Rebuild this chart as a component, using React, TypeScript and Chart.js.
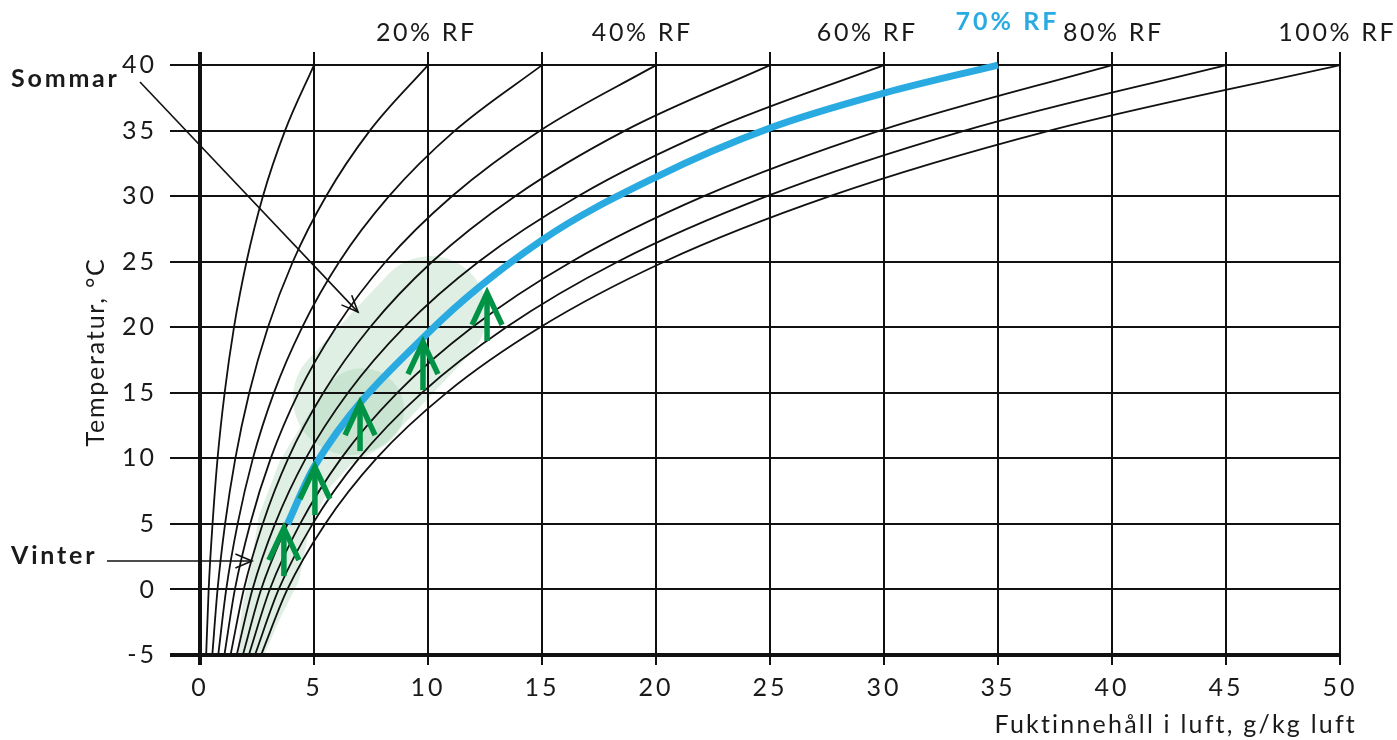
import React, { useEffect, useRef } from "react";
import { Chart, registerables } from "chart.js";

Chart.register(...registerables);

// ---------- data ----------
const TEMPERATURES = [-5, 0, 5, 10, 15, 20, 25, 30, 35, 40];
const RF10 = [0.27, 0.38, 0.55, 0.77, 1.08, 1.49, 2.04, 2.76, 3.73, 5.0];
const RF20 = [0.54, 0.77, 1.1, 1.55, 2.16, 2.98, 4.07, 5.53, 7.45, 10.0];
const RF30 = [0.8, 1.15, 1.65, 2.32, 3.24, 4.48, 6.11, 8.29, 11.18, 15.0];
const RF40 = [1.07, 1.53, 2.2, 3.1, 4.32, 5.97, 8.14, 11.05, 14.91, 20.0];
const RF50 = [1.34, 1.92, 2.75, 3.87, 5.41, 7.46, 10.18, 13.82, 18.64, 25.0];
const RF60 = [1.61, 2.3, 3.29, 4.64, 6.49, 8.95, 12.22, 16.58, 22.36, 30.0];
const RF80 = [2.14, 3.06, 4.39, 6.19, 8.65, 11.94, 16.29, 22.1, 29.82, 40.0];
const RF90 = [2.41, 3.45, 4.94, 6.97, 9.73, 13.43, 18.32, 24.87, 33.54, 45.0];
const RF100 = [2.68, 3.83, 5.49, 7.74, 10.81, 14.92, 20.36, 27.63, 37.27, 50.0];
const RF_CURVES = [RF10, RF20, RF30, RF40, RF50, RF60, RF80, RF90, RF100];

// 70% RF curve (read separately, it is the highlighted one)
const RF70_TEMPS = [-5, 0, 5, 9.34, 19.56, 26.65, 31.46, 35.2, 37.86, 40];
const RF70_X = [1.88, 2.68, 3.84, 5.0, 10.0, 15.0, 20.0, 25.0, 30.0, 35.0];
const BLUE_FROM_TEMP = 5;

const X_TICKS = [0, 5, 10, 15, 20, 25, 30, 35, 40, 45, 50];
const Y_TICKS = [-5, 0, 5, 10, 15, 20, 25, 30, 35, 40];

const TOP_LABELS = ["20% RF", "40% RF", "60% RF", "70% RF", "80% RF", "100% RF"];
const TOP_LABEL_X = [9.87, 19.34, 29.21, 35.35, 40.0, 49.82];
const HIGHLIGHT_LABEL = "70% RF";

const ARROW_X = [3.68, 5.04, 7.02, 9.78, 12.59];
const ARROW_Y = [5.06, 9.72, 14.6, 19.25, 23.0];

const SUMMER_ZONE_X = [6.58, 10.09];
const SUMMER_ZONE_Y = [14.6, 21.08];
const WINTER_ZONE_X = [2.19, 2.72, 3.29, 3.68, 4.61, 5.7, 7.11];
const WINTER_ZONE_Y = [-5.0, -1.57, 1.25, 5.06, 8.88, 11.4, 13.68];

const SOMMAR_TARGET = [6.93, 21.16];
const VINTER_TARGET = [2.28, 2.17];

const X_TITLE = "Fuktinnehåll i luft, g/kg luft";
const Y_TITLE = "Temperatur, °C";

// ---------- styles ----------
const FONT = "Lato, 'Open Sans', sans-serif";
const TEXT = "#1a1a1a";
const BLUE = "#29abe2";
const GREEN = "#009245";
const LIGHT = "#dfefe4";
const DARK = "#c9e4d1";
const WINTER_RADII = [13, 20, 25, 26, 28, 32, 42];
const SUMMER_RADIUS = 57;

const decorPlugin = {
  id: "decor",
  beforeDraw(chart: any) {
    const { ctx, chartArea: a, scales } = chart;
    const x = scales.x;
    const y = scales.y;
    ctx.save();
    ctx.fillStyle = "#ffffff";
    ctx.fillRect(0, 0, chart.width, chart.height);
    ctx.beginPath();
    ctx.rect(a.left, a.top, a.right - a.left, a.bottom - a.top);
    ctx.clip();

    const c1 = { x: x.getPixelForValue(SUMMER_ZONE_X[0]), y: y.getPixelForValue(SUMMER_ZONE_Y[0]) };
    const c2 = { x: x.getPixelForValue(SUMMER_ZONE_X[1]), y: y.getPixelForValue(SUMMER_ZONE_Y[1]) };
    const r = SUMMER_RADIUS;
    const th = Math.atan2(c2.y - c1.y, c2.x - c1.x);
    const stadium = new Path2D();
    stadium.arc(c2.x, c2.y, r, th - Math.PI / 2, th + Math.PI / 2);
    stadium.arc(c1.x, c1.y, r, th + Math.PI / 2, th + (3 * Math.PI) / 2);
    stadium.closePath();

    const pts = WINTER_ZONE_X.map((v, i) => ({
      x: x.getPixelForValue(v),
      y: y.getPixelForValue(WINTER_ZONE_Y[i]),
      r: WINTER_RADII[i],
    }));
    const drawWinter = (color: string) => {
      ctx.fillStyle = color;
      ctx.beginPath();
      for (let i = 0; i < pts.length - 1; i++) {
        const p = pts[i];
        const q = pts[i + 1];
        const d = Math.hypot(q.x - p.x, q.y - p.y);
        const n = Math.max(2, Math.ceil(d / 1.5));
        for (let k = 0; k <= n; k++) {
          const t = k / n;
          const cx = p.x + (q.x - p.x) * t;
          const cy = p.y + (q.y - p.y) * t;
          const cr = p.r + (q.r - p.r) * t;
          ctx.moveTo(cx + cr, cy);
          ctx.arc(cx, cy, cr, 0, Math.PI * 2);
        }
      }
      ctx.fill("nonzero");
    };

    ctx.fillStyle = LIGHT;
    ctx.fill(stadium);
    drawWinter(LIGHT);
    ctx.save();
    ctx.clip(stadium);
    drawWinter(DARK);
    ctx.restore();
    ctx.restore();
    // wider letter spacing for the tick labels (geometric wide face look)
    (ctx as any).letterSpacing = "3px";
  },
  afterDatasetsDraw(chart: any) {
    const { ctx, scales } = chart;
    const x = scales.x;
    const y = scales.y;
    ctx.save();
    ctx.strokeStyle = GREEN;
    ctx.lineWidth = 5.5;
    ctx.lineCap = "butt";
    ctx.lineJoin = "miter";
    ARROW_X.forEach((v, i) => {
      const tx = x.getPixelForValue(v);
      const ty = y.getPixelForValue(ARROW_Y[i]) + 5;
      ctx.beginPath();
      ctx.moveTo(tx, ty);
      ctx.lineTo(tx, ty + 48);
      ctx.stroke();
      ctx.beginPath();
      ctx.moveTo(tx - 15, ty + 32);
      ctx.lineTo(tx, ty);
      ctx.lineTo(tx + 15, ty + 32);
      ctx.stroke();
    });
    ctx.restore();
  },
  afterDraw(chart: any) {
    const { ctx, scales } = chart;
    const x = scales.x;
    const y = scales.y;
    ctx.save();
    const annot = (sx: number, sy: number, tx: number, ty: number) => {
      ctx.strokeStyle = "#111";
      ctx.lineWidth = 1.6;
      ctx.beginPath();
      ctx.moveTo(sx, sy);
      ctx.lineTo(tx, ty);
      ctx.stroke();
      const ang = Math.atan2(ty - sy, tx - sx) + Math.PI;
      const len = 18;
      const spread = (23 * Math.PI) / 180;
      ctx.beginPath();
      ctx.moveTo(tx + len * Math.cos(ang - spread), ty + len * Math.sin(ang - spread));
      ctx.lineTo(tx, ty);
      ctx.lineTo(tx + len * Math.cos(ang + spread), ty + len * Math.sin(ang + spread));
      ctx.stroke();
    };
    annot(140, 82, x.getPixelForValue(SOMMAR_TARGET[0]), y.getPixelForValue(SOMMAR_TARGET[1]));
    annot(107, 561, x.getPixelForValue(VINTER_TARGET[0]), y.getPixelForValue(VINTER_TARGET[1]));

    ctx.textBaseline = "alphabetic";
    ctx.fillStyle = TEXT;
    ctx.font = `bold 25px ${FONT}`;
    (ctx as any).letterSpacing = "2.8px";
    ctx.textAlign = "left";
    ctx.fillText("Sommar", 11, 87);
    ctx.fillText("Vinter", 11, 564);

    TOP_LABELS.forEach((lab, i) => {
      const px = x.getPixelForValue(TOP_LABEL_X[i]);
      ctx.textAlign = "center";
      if (lab === HIGHLIGHT_LABEL) {
        ctx.font = `bold 25px ${FONT}`;
        (ctx as any).letterSpacing = "3px";
        ctx.fillStyle = BLUE;
        ctx.fillText(lab, px + 1.5, 30);
      } else {
        ctx.font = `25px ${FONT}`;
        (ctx as any).letterSpacing = "2.6px";
        ctx.fillStyle = TEXT;
        ctx.fillText(lab, px + 1.3, 41);
      }
    });

    ctx.fillStyle = TEXT;
    ctx.font = `25px ${FONT}`;
    (ctx as any).letterSpacing = "2.2px";
    ctx.textAlign = "right";
    ctx.fillText(X_TITLE, 1357, 733);
    ctx.save();
    ctx.translate(104, 352);
    ctx.rotate(-Math.PI / 2);
    (ctx as any).letterSpacing = "1.8px";
    ctx.textAlign = "center";
    ctx.fillText(Y_TITLE, 0, 0);
    ctx.restore();
    ctx.restore();
    (ctx as any).letterSpacing = "0px";
  },
};

export default function App() {
  const ref = useRef<HTMLCanvasElement | null>(null);
  useEffect(() => {
    document.body.style.margin = "0";
    if (!ref.current) return;
    const blueTemps = RF70_TEMPS.filter((t) => t >= BLUE_FROM_TEMP);
    const blueX = RF70_X.filter((_, i) => RF70_TEMPS[i] >= BLUE_FROM_TEMP);
    const datasets: any[] = [
      {
        label: "70% RF",
        data: blueTemps.map((t, i) => ({ x: blueX[i], y: t })),
        borderColor: BLUE,
        borderWidth: 7,
        pointRadius: 0,
        cubicInterpolationMode: "monotone",
        borderCapStyle: "butt",
        order: -1,
        fill: false,
      },
      {
        label: "70% RF base",
        data: RF70_TEMPS.map((t, i) => ({ x: RF70_X[i], y: t })),
        borderColor: "#111111",
        borderWidth: 1.8,
        pointRadius: 0,
        cubicInterpolationMode: "monotone",
        fill: false,
      },
      ...RF_CURVES.map((arr, k) => ({
        label: `curve ${k}`,
        data: TEMPERATURES.map((t, i) => ({ x: arr[i], y: t })),
        borderColor: "#111111",
        borderWidth: 1.8,
        pointRadius: 0,
        cubicInterpolationMode: "monotone",
        fill: false,
      })),
    ];
    const chart = new Chart(ref.current, {
      type: "line",
      data: { datasets },
      plugins: [decorPlugin],
      options: {
        responsive: false,
        animation: false,
        devicePixelRatio: 1,
        layout: { padding: { left: 0, right: 57, top: 52, bottom: 0 } },
        plugins: { legend: { display: false }, tooltip: { enabled: false } },
        scales: {
          x: {
            type: "linear",
            min: 0,
            max: 50,
            afterBuildTicks: (s: any) => {
              s.ticks = X_TICKS.map((v) => ({ value: v }));
            },
            afterFit: (s: any) => {
              s.height = 85;
            },
            border: { display: false },
            grid: {
              color: "#111111",
              lineWidth: (c: any) => (c.tick && c.tick.value === 0 ? 4 : 2),
              tickLength: 10,
              drawTicks: true,
            },
            ticks: {
              font: { family: FONT, size: 25 },
              color: TEXT,
              padding: 8,
              maxRotation: 0,
            },
          },
          y: {
            type: "linear",
            min: -5,
            max: 41,
            afterBuildTicks: (s: any) => {
              s.ticks = Y_TICKS.map((v) => ({ value: v }));
            },
            afterFit: (s: any) => {
              s.width = 200;
            },
            border: { display: false },
            grid: {
              color: "#111111",
              lineWidth: (c: any) => (c.tick && c.tick.value === -5 ? 4 : 2),
              tickLength: 30,
              drawTicks: true,
            },
            ticks: {
              font: { family: FONT, size: 25 },
              color: TEXT,
              padding: 13,
            },
          },
        },
      } as any,
    });
    return () => chart.destroy();
  }, []);
  return (
    <div style={{ width: 1397, height: 740 }}>
      <canvas ref={ref} width={1397} height={740} style={{ display: "block" }} />
    </div>
  );
}
